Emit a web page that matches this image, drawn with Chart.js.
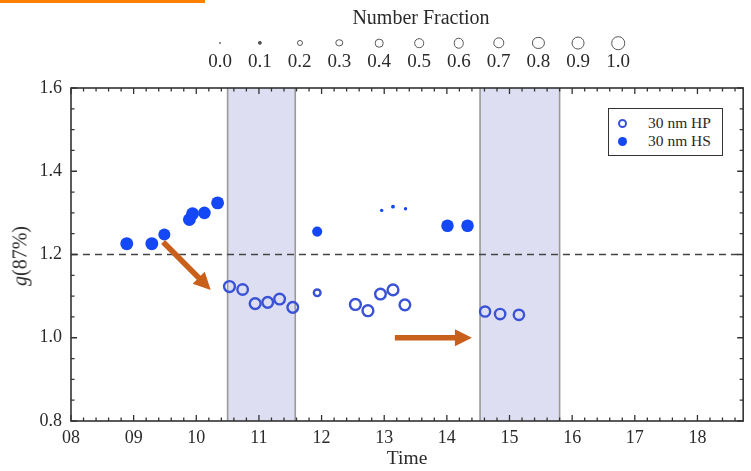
<!DOCTYPE html>
<html>
<head>
<meta charset="utf-8">
<script src="https://cdn.jsdelivr.net/npm/chart.js@4.4.0/dist/chart.umd.min.js"></script>
<style>
  html, body { margin: 0; padding: 0; background: #fff; }
  #wrap { position: relative; width: 751px; height: 471px; font-family: 'Liberation Serif', 'Times New Roman', serif; color: #2a2a2a; }
  #topbar { position: absolute; left: 0; top: 0; width: 205px; height: 3px; background: #ff7f00; }
  #fracTitle { position: absolute; left: 296px; width: 250px; top: 6px; text-align: center; font-size: 20px; }
  .fr { position: absolute; top: 34px; width: 40px; height: 40px; margin-left: -20px; }
  .fr .c { position: absolute; left: 50%; top: 9px; transform: translate(-50%, -50%); border: 1.3px solid #555; border-radius: 50%; box-sizing: border-box; }
  .fr .t { position: absolute; left: -5px; right: -5px; top: 17px; text-align: center; font-size: 19px; line-height: 20px; }
  #legend { position: absolute; left: 608px; top: 108px; width: 115px; height: 48px; border: 1.5px solid #333; box-sizing: border-box; background: #fff; }
  .li { position: absolute; left: 0; height: 18px; font-size: 15.5px; line-height: 18px; }
  .li .c { position: absolute; left: 9px; top: 5px; width: 9px; height: 9px; border-radius: 50%; box-sizing: border-box; }
  .li .t { position: absolute; left: 39px; white-space: nowrap; }
  #ytitle { position: absolute; left: 20px; top: 256px; transform: translate(-50%, -50%) rotate(-90deg); font-size: 20px; white-space: nowrap; }
  canvas { position: absolute; left: 0; top: 0; }
</style>
</head>
<body>
<div id="wrap">
  <canvas id="chart" width="751" height="471"></canvas>
  <div id="topbar"></div>
  <div id="fracTitle">Number Fraction</div>
  <div id="fracLegend"></div>
  <div id="legend">
    <div class="li" style="top:5px"><div class="c" style="border:2px solid #3a52d6"></div><span class="t">30 nm HP</span></div>
    <div class="li" style="top:23px"><div class="c" style="background:#1447f5"></div><span class="t">30 nm HS</span></div>
  </div>
  <div id="ytitle"><i>g</i>(87%)</div>
</div>
<script>
// 30 nm HP (hydrophobic) - open circles
const hpTime = [10.53, 10.74, 10.94, 11.14, 11.33, 11.54, 11.93, 12.54, 12.74, 12.94, 13.14, 13.33, 14.61, 14.85, 15.15];
const hpG    = [1.123, 1.116, 1.082, 1.085, 1.093, 1.073, 1.108, 1.080, 1.065, 1.105, 1.115, 1.079, 1.063, 1.057, 1.055];
const hpFrac = [0.95, 0.9, 0.95, 0.92, 0.92, 0.92, 0.45, 0.95, 0.95, 0.92, 0.94, 0.92, 0.85, 0.88, 0.88];

// 30 nm HS (hygroscopic) - filled circles
const hsTime = [8.89, 9.29, 9.49, 9.89, 9.94, 10.13, 10.34, 11.93, 12.96, 13.14, 13.34, 14.01, 14.33];
const hsG    = [1.226, 1.226, 1.248, 1.284, 1.298, 1.300, 1.324, 1.255, 1.306, 1.315, 1.310, 1.269, 1.269];
const hsFrac = [0.9, 0.9, 0.78, 0.9, 0.9, 0.85, 0.9, 0.55, 0.06, 0.08, 0.06, 0.85, 0.85];

const fracTicks = [0.0, 0.1, 0.2, 0.3, 0.4, 0.5, 0.6, 0.7, 0.8, 0.9, 1.0];
const xTicks = [8, 9, 10, 11, 12, 13, 14, 15, 16, 17, 18];
const yTicks = [0.8, 1.0, 1.2, 1.4, 1.6];
const refG = 1.2;

// shaded periods (hours)
const shadeStart = [10.5, 14.53];
const shadeEnd   = [11.58, 15.8];

// orange arrows, [time, g]
const arrowFrom = [[9.47, 1.230], [13.17, 1.0]];
const arrowTo   = [[10.23, 1.115], [14.40, 1.0]];

function radius(f) {
  return 6.8 * Math.sqrt(f);
}

// number fraction legend on top
const fracBox = document.getElementById('fracLegend');
fracTicks.forEach((f, i) => {
  const el = document.createElement('div');
  el.className = 'fr';
  el.style.left = (220 + i * 39.8) + 'px';
  const c = document.createElement('div');
  c.className = 'c';
  const d = Math.max(2 * radius(f), 2);
  c.style.width = d + 'px';
  c.style.height = d + 'px';
  if (d < 5) c.style.background = '#555';
  const t = document.createElement('div');
  t.className = 't';
  t.textContent = f.toFixed(1);
  el.appendChild(c);
  el.appendChild(t);
  fracBox.appendChild(el);
});

const bgPlugin = {
  id: 'bands',
  beforeDatasetsDraw(chart) {
    const { ctx, chartArea, scales: { x } } = chart;
    ctx.save();
    shadeStart.forEach((s, i) => {
      const x1 = x.getPixelForValue(s);
      const x2 = x.getPixelForValue(shadeEnd[i]);
      ctx.fillStyle = 'rgb(222,222,243)';
      ctx.fillRect(x1, chartArea.top, x2 - x1, chartArea.bottom - chartArea.top);
      ctx.strokeStyle = '#999';
      ctx.lineWidth = 1.6;
      ctx.beginPath();
      ctx.moveTo(x1, chartArea.top); ctx.lineTo(x1, chartArea.bottom);
      ctx.moveTo(x2, chartArea.top); ctx.lineTo(x2, chartArea.bottom);
      ctx.stroke();
    });
    ctx.restore();
  }
};

function drawArrow(ctx, x1, y1, x2, y2) {
  const ang = Math.atan2(y2 - y1, x2 - x1);
  const len = Math.hypot(x2 - x1, y2 - y1);
  ctx.save();
  ctx.translate(x1, y1);
  ctx.rotate(ang);
  ctx.beginPath();
  ctx.moveTo(0, -2.8);
  ctx.lineTo(len - 17, -2.8);
  ctx.lineTo(len - 17, -8.5);
  ctx.lineTo(len, 0);
  ctx.lineTo(len - 17, 8.5);
  ctx.lineTo(len - 17, 2.8);
  ctx.lineTo(0, 2.8);
  ctx.closePath();
  ctx.fill();
  ctx.restore();
}

const framePlugin = {
  id: 'frame',
  afterDraw(chart) {
    const { ctx, chartArea: a, scales: { x, y } } = chart;
    ctx.save();
    ctx.strokeStyle = '#333';
    ctx.lineWidth = 1.6;
    ctx.strokeRect(a.left, a.top, a.right - a.left, a.bottom - a.top);
    ctx.lineWidth = 1.3;
    ctx.beginPath();
    // x ticks every 0.2 h, major each hour
    for (let k = 0; ; k++) {
      const v = x.min + k * 0.2;
      if (v > x.max + 1e-6) break;
      const px = x.getPixelForValue(v);
      const len = k % 5 === 0 ? 6 : 3.5;
      ctx.moveTo(px, a.bottom); ctx.lineTo(px, a.bottom - len);
      ctx.moveTo(px, a.top); ctx.lineTo(px, a.top + len);
    }
    // y ticks every 0.05, major each 0.2
    for (let k = 0; ; k++) {
      const v = y.min + k * 0.05;
      if (v > y.max + 1e-6) break;
      const py = y.getPixelForValue(v);
      const len = k % 4 === 0 ? 6 : 3.5;
      ctx.moveTo(a.left, py); ctx.lineTo(a.left + len, py);
      ctx.moveTo(a.right, py); ctx.lineTo(a.right - len, py);
    }
    ctx.stroke();
    ctx.fillStyle = '#c8601c';
    arrowFrom.forEach((p, i) => {
      const q = arrowTo[i];
      drawArrow(ctx, x.getPixelForValue(p[0]), y.getPixelForValue(p[1]),
        x.getPixelForValue(q[0]), y.getPixelForValue(q[1]));
    });
    ctx.restore();
  }
};

const tickFont = { family: "'Liberation Serif', serif", size: 18 };

new Chart(document.getElementById('chart'), {
  type: 'bubble',
  data: {
    datasets: [
      {
        label: '30 nm HS',
        data: hsTime.map((t, i) => ({ x: t, y: hsG[i], r: radius(hsFrac[i]) })),
        backgroundColor: '#1447f5',
        borderWidth: 0
      },
      {
        label: '30 nm HP',
        data: hpTime.map((t, i) => ({ x: t, y: hpG[i], r: radius(hpFrac[i]) - 1.2 })),
        backgroundColor: 'rgba(0,0,0,0)',
        borderColor: '#3a52d6',
        borderWidth: 2.4
      },
      {
        type: 'line',
        label: 'ref',
        data: [{ x: 8, y: refG }, { x: 18.73, y: refG }],
        borderColor: '#444',
        borderWidth: 1.3,
        borderDash: [7, 5],
        pointRadius: 0
      }
    ]
  },
  options: {
    responsive: false,
    devicePixelRatio: 1,
    animation: false,
    layout: { padding: { top: 88, right: 4, left: 0, bottom: 0 } },
    plugins: {
      legend: { display: false },
      tooltip: { enabled: false }
    },
    scales: {
      x: {
        type: 'linear',
        min: 8,
        max: 18.73,
        afterFit: s => { s.height = 50; },
        afterBuildTicks: s => { s.ticks = xTicks.map(v => ({ value: v })); },
        ticks: {
          font: tickFont,
          color: '#2a2a2a',
          padding: 6,
          maxRotation: 0,
          callback: v => String(v).padStart(2, '0')
        },
        grid: { display: false, drawTicks: false },
        border: { display: false },
        title: {
          display: true,
          text: 'Time',
          font: { family: "'Liberation Serif', serif", size: 19.5 },
          color: '#2a2a2a',
          padding: { top: 0, bottom: 0 }
        }
      },
      y: {
        min: 0.8,
        max: 1.6,
        afterFit: s => { s.width = 71; },
        afterBuildTicks: s => { s.ticks = yTicks.map(v => ({ value: v })); },
        ticks: {
          font: tickFont,
          color: '#2a2a2a',
          padding: 9,
          callback: v => v.toFixed(1)
        },
        grid: { display: false, drawTicks: false },
        border: { display: false }
      }
    }
  },
  plugins: [bgPlugin, framePlugin]
});
</script>
</body>
</html>
